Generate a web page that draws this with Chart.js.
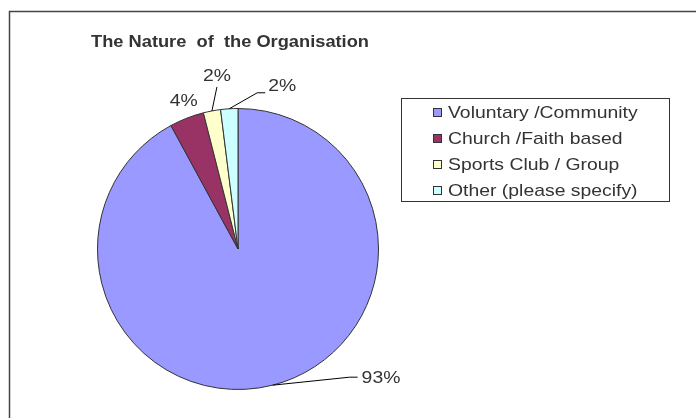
<!DOCTYPE html>
<html>
<head>
<meta charset="utf-8">
<script src="https://cdn.jsdelivr.net/npm/chart.js@4/dist/chart.umd.min.js"></script>
<style>
  html, body { margin: 0; padding: 0; background: #fff; }
  #wrap { position: relative; width: 696px; height: 418px; }
</style>
</head>
<body>
<div id="wrap"><canvas id="c" width="696" height="418"></canvas></div>
<script>
// Survey answers: nature of the organisation (percent of respondents)
const categories = ['Voluntary /Community', 'Church /Faith based', 'Sports Club / Group', 'Other (please specify)'];
const percentValues = [93, 4, 2, 2];
const sliceColors = ['#9999FF', '#993366', '#FFFFCC', '#CCFFFF'];
const chartTitle = 'The Nature  of  the Organisation';

const textColor = '#333333';
const labelFont = '17px "Liberation Sans", Arial, sans-serif';
const wideX = 1.14; // slightly widened glyphs for labels and legend

// Leader-line placement for each slice label, relative to the slice's outer midpoint
const labelLayout = [
  { elbow: [77, -8], end: [85, -8], text: [89, -7], align: 'left' },
  { elbow: null, end: null, text: [-3, -17], align: 'center' },
  { elbow: null, end: [5, -24], text: [5, -35], align: 'center' },
  { elbow: [28, -16], end: [36, -16], text: [39, -22], align: 'left' }
];

// fillText with horizontal stretch, honouring alignment
function wideText(ctx, text, x, y, align, sx) {
  const w = ctx.measureText(text).width * sx;
  let left = x;
  if (align === 'center') left = x - w / 2;
  else if (align === 'right') left = x - w;
  ctx.save();
  ctx.textAlign = 'left';
  ctx.translate(left, y);
  ctx.scale(sx, 1);
  ctx.fillText(text, 0, 0);
  ctx.restore();
}

const frameAndLegend = {
  id: 'frameAndLegend',
  beforeDraw(chart) {
    const ctx = chart.ctx;
    ctx.save();
    ctx.fillStyle = '#fff';
    ctx.fillRect(0, 0, chart.width, chart.height);
    // outer chart border
    ctx.strokeStyle = '#444';
    ctx.lineWidth = 1.5;
    ctx.strokeRect(9.5, 11.5, 720, 440);
    // title
    ctx.fillStyle = textColor;
    ctx.font = 'bold 17px "Liberation Sans", Arial, sans-serif';
    ctx.textBaseline = 'alphabetic';
    const tw = ctx.measureText(chartTitle).width;
    wideText(ctx, chartTitle, 91, 47, 'left', 278 / tw);
    ctx.restore();
  },
  afterDraw(chart) {
    const ctx = chart.ctx;
    const meta = chart.getDatasetMeta(0);
    ctx.save();
    // slice labels with leader lines
    ctx.font = labelFont;
    ctx.fillStyle = textColor;
    ctx.strokeStyle = '#000';
    ctx.lineWidth = 1;
    ctx.textBaseline = 'middle';
    meta.data.forEach((arc, i) => {
      const mid = (arc.startAngle + arc.endAngle) / 2;
      const sx = arc.x + Math.cos(mid) * arc.outerRadius;
      const sy = arc.y + Math.sin(mid) * arc.outerRadius;
      const L = labelLayout[i];
      if (L.end) {
        ctx.beginPath();
        ctx.moveTo(sx, sy);
        if (L.elbow) ctx.lineTo(sx + L.elbow[0], sy + L.elbow[1]);
        ctx.lineTo(sx + L.end[0], sy + L.end[1]);
        ctx.stroke();
      }
      wideText(ctx, percentValues[i] + '%', sx + L.text[0], sy + L.text[1], L.align, wideX);
    });
    // legend box
    const bx = 401.5, by = 98.5, bw = 268, bh = 103;
    ctx.strokeStyle = '#333';
    ctx.lineWidth = 1;
    ctx.strokeRect(bx, by, bw, bh);
    ctx.font = labelFont;
    ctx.textBaseline = 'middle';
    categories.forEach((name, i) => {
      const cy = 113 + i * 26;
      ctx.fillStyle = sliceColors[i];
      ctx.fillRect(433, cy - 5, 9, 9);
      ctx.strokeStyle = '#333';
      ctx.strokeRect(433.5, cy - 4.5, 8, 8);
      ctx.fillStyle = textColor;
      wideText(ctx, name, 448, cy, 'left', wideX);
    });
    ctx.restore();
  }
};

new Chart(document.getElementById('c'), {
  type: 'pie',
  data: {
    labels: categories,
    datasets: [{
      data: percentValues,
      backgroundColor: sliceColors,
      borderColor: '#333',
      borderWidth: 1
    }]
  },
  options: {
    responsive: false,
    animation: false,
    rotation: 0,
    layout: { padding: { left: 97, right: 317, top: 108, bottom: 28 } },
    plugins: {
      legend: { display: false },
      title: { display: false },
      tooltip: { enabled: false }
    }
  },
  plugins: [frameAndLegend]
});
</script>
</body>
</html>
